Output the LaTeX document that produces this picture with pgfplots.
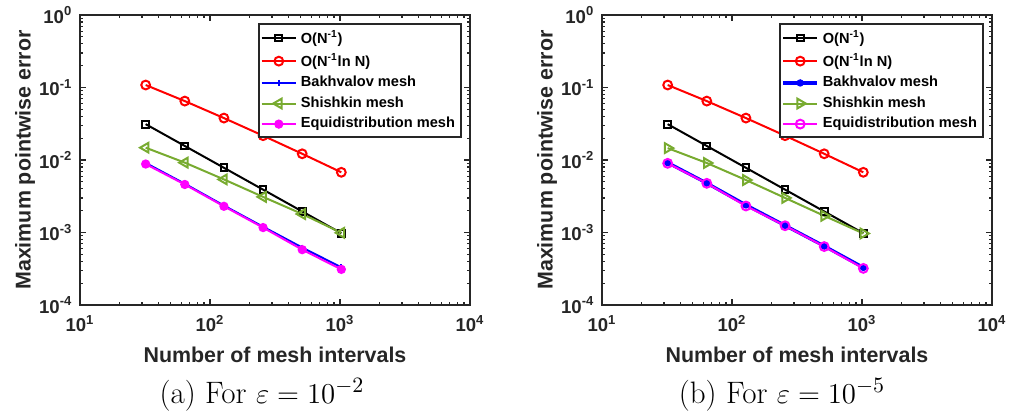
\documentclass[border=0pt]{standalone}
\usepackage{fontspec}
\usepackage{pgfplots}
\pgfplotsset{compat=1.18}
\newfontfamily\msans{Liberation Sans}
\definecolor{mgreen}{rgb}{0.47,0.67,0.19}
\definecolor{mmag}{rgb}{1,0,1}
\definecolor{axgray}{rgb}{0.15,0.15,0.15}

\pgfplotsset{every axis/.append style={
    scale only axis, width=195pt, height=145pt,
    xmin=10, xmax=10000, ymin=1e-4, ymax=1,
    xtick={10,100,1000,10000},
    xticklabels={10\textsuperscript{1},10\textsuperscript{2},10\textsuperscript{3},10\textsuperscript{4}},
    ytick={1e-4,1e-3,1e-2,1e-1,1},
    yticklabels={10\textsuperscript{-4},10\textsuperscript{-3},10\textsuperscript{-2},10\textsuperscript{-1},10\textsuperscript{0}},
    tick align=inside,
    axis line style={line width=1pt, axgray},
    major tick length=3pt, minor tick length=1.5pt,
    every tick/.style={axgray, line width=0.6pt},
    ticklabel style={font=\msans\bfseries\fontsize{9.3}{10}\selectfont, text=axgray},
    yticklabel style={xshift=-0.3pt},
    xticklabel style={yshift=-1.5pt},
    xlabel={Number of mesh intervals},
    ylabel={Maximum pointwise error},
    label style={font=\msans\bfseries\fontsize{10.7}{12}\selectfont, text=axgray},
    xlabel style={at={(axis description cs:0.5,-0.172)}, anchor=center},
    ylabel style={at={(axis description cs:-0.141,0.5)}, anchor=center},
    legend cell align=left,
    legend style={at={(axis description cs:1,1)}, anchor=north east,
        xshift=-4pt, yshift=-4pt, draw=axgray, line width=1pt,
        font=\msans\bfseries\fontsize{7.3}{8}\selectfont,
        row sep=-0.5pt, inner sep=1pt},
}}

\begin{document}
\begin{tikzpicture}
\useasboundingbox (0,0) rectangle (504.5pt,209.5pt);

% (a) epsilon = 1e-2
\begin{loglogaxis}[at={(40pt,57pt)}, anchor=south west]
\addplot[black, line width=1pt, mark=square, mark size=1.7pt] coordinates {
    (32,0.03125) (64,0.015625) (128,0.0078125) (256,0.00390625) (512,0.001953) (1024,0.0009766)
};
\addlegendentry{O(N\textsuperscript{-1})}
\addplot[red, line width=1pt, mark=o, mark size=2.2pt] coordinates {
    (32,0.1083) (64,0.0650) (128,0.0379) (256,0.02166) (512,0.01219) (1024,0.00677)
};
\addlegendentry{O(N\textsuperscript{-1}ln N)}
\addplot[blue, line width=1pt, mark=+, mark size=1.5pt] coordinates {
    (32,0.0091) (64,0.0047) (128,0.00235) (256,0.0012) (512,0.00062) (1024,0.00033)
};
\addlegendentry{Bakhvalov mesh}
\addplot[mgreen, line width=1pt, mark=triangle, mark size=2.8pt, mark options={rotate=90}] coordinates {
    (32,0.0148) (64,0.0092) (128,0.0054) (256,0.0031) (512,0.0018) (1024,0.00099)
};
\addlegendentry{Shishkin mesh}
\addplot[mmag, line width=1pt, mark=*, mark size=1.8pt] coordinates {
    (32,0.0088) (64,0.0046) (128,0.0023) (256,0.00117) (512,0.00058) (1024,0.00031)
};
\addlegendentry{Equidistribution mesh}
\end{loglogaxis}

% (b) epsilon = 1e-5
\begin{loglogaxis}[at={(301pt,57pt)}, anchor=south west]
\addplot[black, line width=1pt, mark=square, mark size=1.7pt] coordinates {
    (32,0.03125) (64,0.015625) (128,0.0078125) (256,0.00390625) (512,0.001953) (1024,0.0009766)
};
\addlegendentry{O(N\textsuperscript{-1})}
\addplot[red, line width=1pt, mark=o, mark size=2.2pt] coordinates {
    (32,0.1083) (64,0.0650) (128,0.0379) (256,0.02166) (512,0.01219) (1024,0.00677)
};
\addlegendentry{O(N\textsuperscript{-1}ln N)}
\addplot[blue, line width=1.6pt, mark=*, mark size=1pt] coordinates {
    (32,0.0092) (64,0.0048) (128,0.0024) (256,0.00125) (512,0.00065) (1024,0.00033)
};
\addlegendentry{Bakhvalov mesh}
\addplot[mgreen, line width=1pt, mark=triangle, mark size=2.8pt, mark options={rotate=-90}] coordinates {
    (32,0.0146) (64,0.0091) (128,0.0053) (256,0.0030) (512,0.0017) (1024,0.00097)
};
\addlegendentry{Shishkin mesh}
\addplot[mmag, line width=1pt, mark=o, mark size=2.2pt] coordinates {
    (32,0.0090) (64,0.00477) (128,0.00232) (256,0.00124) (512,0.00064) (1024,0.00032)
};
\addlegendentry{Equidistribution mesh}
\end{loglogaxis}

\node[anchor=center, font=\fontsize{15.5}{18}\selectfont] at (131pt,12pt) {(a) For $\varepsilon = 10^{-2}$};
\node[anchor=center, font=\fontsize{15.5}{18}\selectfont] at (391pt,12pt) {(b) For $\varepsilon = 10^{-5}$};
\end{tikzpicture}
\end{document}
